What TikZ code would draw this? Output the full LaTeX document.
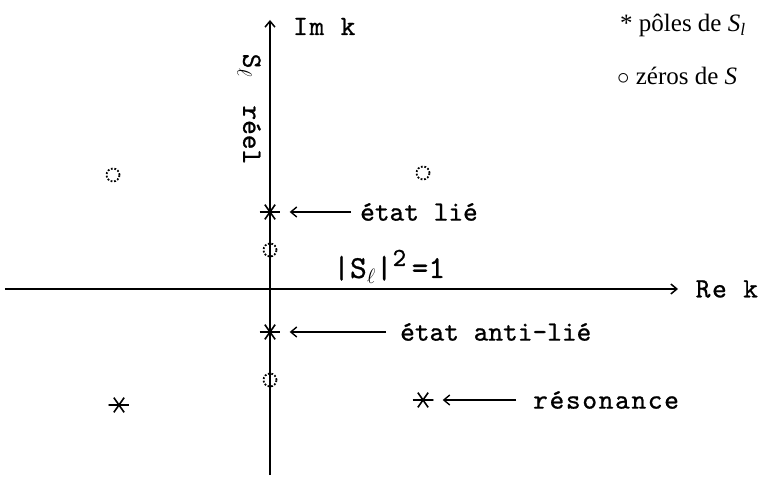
\documentclass[tikz,border=0pt]{standalone}
\usepackage{fontspec}
\setmainfont{Liberation Serif}
\newfontfamily\twfont{lmmono10-regular.otf}[FakeBold=0.8]
\usetikzlibrary{arrows.meta}

\tikzset{
    pole/.style={circle,inner sep=0pt,minimum size=21pt,
        path picture={
            \draw[line width=1.6pt] (path picture bounding box.west) -- (path picture bounding box.east);
            \draw[line width=1.6pt] (path picture bounding box.center) ++(55:9pt) -- ++(235:18pt);
            \draw[line width=1.6pt] (path picture bounding box.center) ++(125:9pt) -- ++(305:18pt);
        }},
    zero/.style={circle,draw,dash pattern=on 1.8pt off 1.7pt,line width=1.8pt,inner sep=0pt,minimum size=13pt},
    tw/.style={font=\fontsize{28}{30}\selectfont\twfont,inner sep=0pt},
    wide/.style={font=\fontsize{28}{30}\selectfont\twfont\addfontfeatures{LetterSpace=6}},
    legend/.style={font=\fontsize{25}{28}\selectfont,anchor=base west,inner sep=0pt},
    pointer/.style={->,line width=1.4pt,shorten >=9pt}
}

\begin{document}
\begin{tikzpicture}[x=10pt,y=10pt,>={Straight Barb[length=6pt,width=10pt]}]
    \useasboundingbox (-27,-18.9) rectangle (50.5,28.9);
    % axes
    \draw[->,line width=1.5pt] (-26.5,0) -- (40.8,0) node[tw,wide,anchor=west,xshift=17pt] (rek) {Re k};
    \draw[->,line width=1.5pt] (0,-18.6) -- (0,26.9);
    \node[tw,wide,anchor=base west] (imk) at (2.3,25.4) {Im k};
    \node[tw,rotate=-90] (sreel) at (-2.1,18.0) {S$_\ell$\hspace{28pt}réel};

    % poles and zeros
    \foreach \nm/\x/\y in {plie/0/7.7,panti/0/-4.3,pleft/-15.1/-11.6,pres/15.3/-11.1}
        \node[pole] (\nm) at (\x,\y) {};
    \foreach \nm/\x/\y in {zleft/-15.7/11.4,zright/15.3/11.6,zup/0/3.9,zdown/0/-9.1}
        \node[zero] (\nm) at (\x,\y) {};

    % labels
    \node[tw,anchor=west] (lie) at (9.0,7.7) {état lié};
    \node[tw,anchor=west] (anti) at (13.0,-4.3) {état anti-lié};
    \node[tw,wide,anchor=west] (reso) at (26.3,-11.1) {résonance};
    \node[tw,font=\fontsize{32}{34}\selectfont\twfont,anchor=base west] (unit) at (6.3,1.1)
        {|S$_\ell$|\raisebox{12pt}{\fontsize{26}{26}\selectfont 2}\,=1};
    \draw[pointer,shorten <=9pt] (lie.west) -- (lie.west -| plie.east);
    \draw[pointer,shorten <=14pt] (anti.west) -- (anti.west -| panti.east);
    \draw[pointer,shorten <=17pt] (reso.west) -- (reso.west -| pres.east);

    % legend
    \node[legend] (kpole) at (35.0,25.7) {* pôles de \textit{S}\textsubscript{\textit{l}}};
    \node[legend] (kzero) at (34.7,20.4) {$\circ$ zéros de \textit{S}};
\end{tikzpicture}
\end{document}
